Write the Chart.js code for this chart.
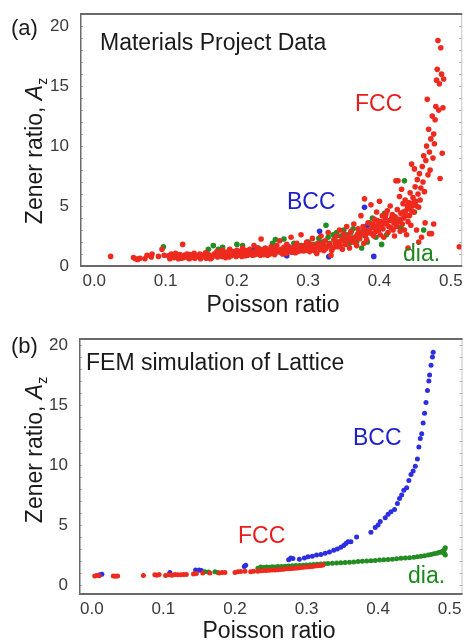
<!DOCTYPE html>
<html><head><meta charset="utf-8">
<script src="https://cdn.jsdelivr.net/npm/chart.js@4/dist/chart.umd.min.js"></script>
<style>
html,body{margin:0;padding:0;background:#fff;}
#wrap{position:relative;width:465px;height:641px;overflow:hidden;background:#fff;}
.c{position:absolute;left:0;}
</style></head><body>
<div id="wrap">
<div class="c" style="top:0;"><canvas id="ca" width="465" height="320"></canvas></div>
<div class="c" style="top:320px;"><canvas id="cb" width="465" height="321"></canvas></div>
</div>
<script>
// ---------- DATA: panel (a) Materials Project Data  [Poisson ratio, Zener ratio] ----------
const mpFCC = [
[0.023,0.8],[0.055,0.7],[0.058,0.6],[0.061,0.55],[0.064,0.65],[0.071,0.6],[0.074,0.9],[0.08,0.75],[0.081,1.0],[0.09,0.8],[0.095,1.4],[0.098,0.9],
[0.104,0.85],[0.108,1.0],[0.112,0.7],[0.114,1.05],[0.117,0.8],[0.12,0.95],[0.122,0.65],[0.124,1.8],[0.126,0.9],[0.128,0.75],[0.13,1.0],[0.132,0.8],[0.134,0.95],[0.136,0.7],[0.138,0.85],[0.14,1.05],[0.142,0.75],[0.144,0.9],[0.146,0.8],[0.148,1.0],[0.15,0.7],[0.152,0.9],[0.154,0.85],[0.156,1.1],[0.158,0.75],[0.16,0.95],[0.162,0.8],[0.165,0.7],[0.168,1.0],[0.17,0.9],
[0.172,1.2],[0.175,0.9],[0.178,1.1],[0.18,1.3],[0.182,0.95],[0.185,1.15],[0.188,1.0],[0.19,1.4],[0.192,0.85],[0.195,1.2],[0.198,1.05],[0.2,1.3],[0.202,0.9],[0.204,1.15],[0.206,1.0],[0.208,1.5],[0.21,1.1],[0.212,0.85],[0.214,1.25],[0.216,1.0],[0.218,1.4],[0.22,1.1],[0.222,0.9],[0.224,1.7],[0.226,1.2],[0.228,1.0],[0.23,1.35],[0.232,1.1],[0.234,2.25],[0.236,1.25],[0.238,0.95],[0.24,1.5],[0.242,1.15],[0.244,1.3],[0.246,1.0],[0.248,1.6],[0.25,1.2],
[0.252,1.4],[0.254,1.1],[0.256,1.7],[0.258,1.25],[0.26,2.1],[0.262,1.4],[0.264,1.0],[0.266,1.55],[0.268,1.3],[0.27,1.8],[0.272,1.2],[0.274,1.5],[0.276,2.4],[0.278,1.35],[0.28,1.6],[0.282,1.1],[0.284,1.9],[0.286,1.45],[0.288,1.25],[0.29,2.6],[0.292,1.5],[0.294,1.7],[0.296,1.3],[0.298,2.0],[0.3,1.55],[0.302,1.2],[0.304,1.8],[0.306,2.3],[0.308,1.4],[0.31,1.65],[0.312,1.05],[0.314,1.9],[0.316,1.5],[0.318,2.5],[0.32,1.7],[0.322,1.3],[0.324,2.1],[0.326,1.6],[0.328,2.8],[0.33,1.8],[0.332,0.9],[0.334,1.45],[0.336,2.2],
[0.338,1.9],[0.34,2.5],[0.342,1.6],[0.344,3.0],[0.346,2.1],[0.348,1.4],[0.35,2.7],[0.352,1.8],[0.354,3.3],[0.356,2.2],[0.358,1.5],[0.36,2.9],[0.362,2.0],[0.364,3.5],[0.366,2.4],[0.368,1.7],[0.37,3.1],[0.372,2.3],[0.374,4.2],[0.376,2.6],[0.378,1.9],[0.379,5.6],[0.38,3.0],[0.382,2.2],[0.384,3.6],[0.386,2.8],[0.388,5.1],[0.39,3.2],[0.392,2.5],
[0.393,3.9],[0.395,2.9],[0.396,4.5],[0.398,3.4],[0.4,5.4],[0.401,2.6],[0.402,3.7],[0.404,4.2],[0.405,3.1],[0.406,2.4],[0.408,4.0],[0.41,3.5],[0.411,4.6],[0.412,2.8],[0.414,3.8],[0.415,5.0],[0.416,3.2],[0.418,4.3],[0.42,3.6],[0.421,2.5],[0.422,4.1],[0.423,7.1],[0.424,3.3],[0.425,4.7],[0.426,7.1],[0.427,3.9],[0.428,5.8],[0.429,2.9],[0.43,4.4],[0.431,6.4],[0.432,3.5],[0.433,5.2],[0.434,4.0],[0.435,3.0],[0.436,5.5],[0.437,4.6],[0.438,2.6],[0.439,5.0],[0.44,3.7],[0.44,1.5],
[0.441,5.3],[0.442,4.2],[0.443,6.1],[0.444,3.4],[0.445,8.5],[0.446,5.0],[0.447,5.7],[0.448,4.5],[0.449,8.1],[0.45,6.6],[0.451,5.4],[0.452,3.0],[0.453,7.2],[0.454,6.0],[0.455,4.9],[0.455,2.0],[0.456,7.7],[0.457,5.5],[0.458,6.5],[0.459,2.4],[0.46,8.3],[0.461,7.0],[0.462,9.2],[0.463,6.2],[0.464,3.6],[0.465,8.8],[0.466,10.0],[0.467,13.9],[0.468,7.6],[0.469,11.4],[0.47,9.5],[0.47,2.7],[0.471,8.0],[0.472,10.6],[0.473,2.7],[0.474,12.5],[0.475,9.0],[0.476,11.0],[0.476,3.5],[0.477,10.2],[0.478,12.2],[0.479,13.3],[0.48,15.5],[0.481,16.4],[0.482,18.8],[0.483,13.0],[0.484,15.2],[0.485,7.3],[0.486,18.2],[0.487,16.0],[0.488,9.4],[0.489,13.2],[0.49,15.6],[0.512,1.6],
[0.106,0.6],[0.118,0.6],[0.125,0.7],[0.133,0.6],[0.141,0.65],[0.149,0.6],[0.157,0.65],[0.163,0.6],[0.167,0.85],[0.173,0.75],[0.179,0.8],[0.184,0.7],[0.189,0.75],[0.194,0.95],[0.199,0.8],[0.203,1.2],[0.207,0.8],[0.211,1.3],[0.215,0.9],[0.219,1.15],[0.225,0.95],[0.229,1.5],[0.233,0.9],[0.237,1.4],[0.243,0.9],[0.247,1.35],[0.249,1.05],[0.253,0.95],[0.257,1.3],[0.261,1.15],[0.265,1.3],[0.269,1.05],[0.273,1.35],[0.277,1.15],[0.281,1.4],[0.285,1.2],[0.289,1.6],[0.293,1.25],[0.297,1.55],[0.301,1.35],[0.305,1.45],[0.309,1.25],[0.313,1.6],[0.317,1.35],[0.321,1.9],[0.325,1.45],[0.329,1.7],[0.333,1.3],[0.337,1.6],[0.341,2.0],[0.345,1.7],[0.349,2.3],[0.353,2.0],[0.357,2.5],[0.361,2.3],[0.365,2.0],[0.369,2.6],[0.373,2.8],[0.377,3.3],[0.381,2.6],[0.385,3.0],[0.389,2.7],[0.391,3.5],[0.394,3.3],[0.397,3.8],[0.399,3.0],[0.403,3.4],[0.407,3.6],[0.409,4.3],[0.413,3.3],[0.417,4.0],[0.419,3.0],[0.425,3.6],[0.43,3.9],[0.433,4.5],[0.437,4.2],[0.44,4.8],[0.443,5.0],[0.445,4.6],[0.448,5.3],[0.452,5.0]
];
const mpDia = [
[0.097,1.6],[0.16,1.4],[0.167,1.7],[0.174,1.4],[0.18,1.55],[0.2,1.8],[0.208,1.7],[0.23,1.5],[0.25,1.9],[0.254,2.2],[0.266,2.25],[0.27,1.6],[0.28,1.9],[0.29,1.7],[0.3,2.0],[0.31,1.8],[0.315,2.3],[0.32,2.0],[0.325,3.4],[0.328,2.4],[0.33,1.9],[0.335,2.6],[0.338,2.1],[0.34,2.8],[0.343,1.8],[0.346,2.5],[0.35,3.0],[0.352,2.2],[0.355,2.6],[0.356,2.3],[0.358,1.9],[0.36,2.8],[0.363,3.1],[0.365,2.4],[0.368,2.0],[0.37,2.7],[0.372,2.3],[0.375,1.5],[0.377,2.9],[0.38,2.5],[0.383,2.0],[0.386,3.6],[0.39,4.0],[0.395,2.4],[0.403,1.8],[0.407,4.4],[0.41,2.6],[0.423,3.9],[0.43,3.2],[0.435,7.1],[0.449,4.5],[0.462,3.0]
];
const mpBCC = [
[0.108,0.75],[0.218,1.0],[0.223,1.3],[0.241,1.1],[0.251,1.4],[0.27,0.85],[0.273,1.6],[0.316,2.9],[0.329,0.78],[0.379,4.9],[0.383,3.4],[0.392,0.8]
];
// ---------- DATA: panel (b) FEM simulation of Lattice ----------
const femFCC = [
[0.004,0.75],[0.007,0.8],[0.01,0.78],[0.03,0.75],[0.033,0.72],[0.036,0.75],[0.072,0.8],[0.088,0.85],[0.091,0.82],[0.094,0.88],[0.103,0.8],[0.108,0.85],[0.112,0.82],[0.116,0.88],[0.12,0.85],[0.124,0.85],[0.128,0.87],[0.132,0.87],[0.142,0.92],[0.146,0.95],[0.155,1.0],[0.165,1.0],[0.178,1.0],[0.182,1.05],[0.186,1.05],[0.2,1.05],[0.204,1.1],[0.208,1.12],[0.214,1.15],[0.222,1.1],[0.226,1.15],[0.232,1.15],[0.236,1.18],[0.24,1.2],[0.244,1.2],[0.248,1.22],[0.252,1.25],[0.256,1.25],[0.26,1.28],[0.264,1.3],[0.268,1.32],[0.272,1.35],[0.276,1.35],[0.28,1.38],[0.284,1.4],[0.288,1.42],[0.292,1.45],[0.296,1.47],[0.3,1.5],[0.304,1.52],[0.308,1.55],[0.312,1.58],[0.316,1.6],[0.32,1.63],[0.323,1.67]
];
const femDia = [
[0.158,1.1],[0.163,1.08],[0.172,1.1],[0.176,1.05],[0.232,1.4],[0.236,1.5],[0.24,1.45],[0.244,1.5],[0.248,1.48],[0.252,1.52],[0.256,1.5],[0.26,1.55],[0.265,1.55],[0.27,1.57],[0.275,1.58],[0.28,1.6],[0.285,1.62],[0.29,1.62],[0.295,1.65],[0.3,1.67],[0.305,1.68],[0.31,1.7],[0.315,1.72],[0.32,1.74],[0.325,1.78],[0.33,1.8],[0.336,1.82],[0.342,1.84],[0.348,1.86],[0.354,1.88],[0.36,1.9],[0.366,1.92],[0.372,1.95],[0.378,1.98],[0.384,2.0],[0.39,2.02],[0.396,2.05],[0.402,2.08],[0.408,2.1],[0.414,2.12],[0.42,2.15],[0.426,2.18],[0.432,2.22],[0.438,2.25],[0.444,2.28],[0.45,2.32],[0.455,2.35],[0.46,2.4],[0.465,2.44],[0.47,2.5],[0.474,2.55],[0.478,2.6],[0.482,2.65],[0.485,2.7],[0.488,2.75],[0.49,2.8],[0.492,2.9],[0.493,3.0],[0.494,3.1],[0.493,2.6],[0.494,2.5],[0.491,2.7]
];
const femBCC = [
[0.011,0.85],[0.014,0.9],[0.109,1.05],[0.145,1.25],[0.15,1.25],[0.153,1.2],[0.213,1.55],[0.215,1.65],[0.275,2.1],[0.278,2.25],[0.281,2.2],[0.29,2.15],[0.297,2.25],[0.302,2.35],[0.308,2.4],[0.314,2.5],[0.32,2.55],[0.326,2.65],[0.332,2.75],[0.338,2.9],[0.343,3.0],[0.348,3.15],[0.352,3.3],[0.355,3.45],[0.358,3.6],[0.362,3.6],[0.37,4.0],[0.39,4.4],[0.396,4.8],[0.4,5.0],[0.403,5.3],[0.41,5.6],[0.414,5.9],[0.418,6.1],[0.423,6.3],[0.427,6.8],[0.43,7.2],[0.433,7.5],[0.436,7.9],[0.44,8.1],[0.443,8.7],[0.446,9.2],[0.449,9.5],[0.452,9.9],[0.455,10.5],[0.457,11.5],[0.459,12.2],[0.461,12.6],[0.463,13.5],[0.465,14.3],[0.467,15.2],[0.469,16.2],[0.471,17.0],[0.472,17.5],[0.474,18.3],[0.476,19.0],[0.477,19.4]
];
// ---------- labels ----------
const xTitle = 'Poisson ratio';
const yTitleMain = 'Zener ratio, ';
const yTitleVar = 'A';
const yTitleSub = 'z';

const FONT = '"Liberation Sans", Arial, Helvetica, sans-serif';
const RED = 'rgb(238,42,30)', BLUE = 'rgb(45,45,225)', GREEN = 'rgb(35,140,35)';
const RED_T = 'rgb(232,30,30)', BLUE_T = 'rgb(30,30,205)', GREEN_T = 'rgb(30,135,30)';

function annPlugin(cfg){
  return {
    id: 'ann_' + cfg.name,
    afterDatasetsDraw(chart){
      const ctx = chart.ctx, a = chart.chartArea;
      const ys = chart.scales.y;
      ctx.save();
      ctx.strokeStyle = '#aaa'; ctx.lineWidth = 1;
      for (let v = Math.ceil(ys.min); v <= ys.max; v++){
        const p = Math.round(ys.getPixelForValue(v)) + 0.5;
        ctx.beginPath(); ctx.moveTo(a.left, p); ctx.lineTo(a.left + 3, p); ctx.stroke();
        ctx.beginPath(); ctx.moveTo(a.right, p); ctx.lineTo(a.right - 3, p); ctx.stroke();
      }
      ctx.strokeStyle = '#c4c4c4'; ctx.lineWidth = 1;
      ctx.beginPath(); ctx.moveTo(a.right - 0.5, a.top); ctx.lineTo(a.right - 0.5, a.bottom); ctx.stroke();
      ctx.strokeStyle = '#6a6a6a'; ctx.lineWidth = 2;
      ctx.beginPath(); ctx.moveTo(a.left, a.top + 1); ctx.lineTo(a.right, a.top + 1); ctx.stroke();
      ctx.beginPath(); ctx.moveTo(a.left, a.bottom); ctx.lineTo(a.right, a.bottom); ctx.stroke();
      ctx.lineWidth = 1.5;
      ctx.beginPath(); ctx.moveTo(a.left + 0.75, a.top); ctx.lineTo(a.left + 0.75, a.bottom + 1); ctx.stroke();
      ctx.textAlign = 'left'; ctx.textBaseline = 'alphabetic';
      cfg.texts.forEach(t => {
        ctx.font = t.size + 'px ' + FONT;
        ctx.fillStyle = t.color;
        ctx.fillText(t.s, t.x, t.y + 0.36 * t.size);
      });
      ctx.font = '23px ' + FONT; ctx.fillStyle = '#1a1a1a'; ctx.textAlign = 'center';
      ctx.fillText(xTitle, cfg.xt.x, cfg.xt.y + 0.36 * 23);
      ctx.translate(cfg.yt.x, cfg.yt.y); ctx.rotate(-Math.PI / 2);
      ctx.textAlign = 'left';
      const s = 23;
      ctx.font = s + 'px ' + FONT; const w1 = ctx.measureText(yTitleMain).width;
      ctx.font = 'italic ' + s + 'px ' + FONT; const w2 = ctx.measureText(yTitleVar).width;
      ctx.font = Math.round(s * 0.62) + 'px ' + FONT; const w3 = ctx.measureText(yTitleSub).width;
      const x0 = -(w1 + w2 + w3) / 2, base = 0.36 * s;
      ctx.font = s + 'px ' + FONT; ctx.fillText(yTitleMain, x0, base);
      ctx.font = 'italic ' + s + 'px ' + FONT; ctx.fillText(yTitleVar, x0 + w1, base);
      ctx.font = Math.round(s * 0.62) + 'px ' + FONT; ctx.fillText(yTitleSub, x0 + w1 + w2, base + 0.22 * s);
      ctx.restore();
    }
  };
}

function makeChart(id, sets, xr, yr, area, plugin){
  return new Chart(document.getElementById(id), {
    type: 'scatter',
    data: { datasets: sets.map(s => ({
      data: s.data.map(([x, y]) => ({x, y})),
      backgroundColor: s.color, borderWidth: 0, pointRadius: s.r, pointHoverRadius: s.r
    })) },
    options: {
      responsive: false, animation: false, events: [],
      layout: { padding: { left: 0, top: area.top, right: area.right, bottom: 0 } },
      plugins: { legend: { display: false }, tooltip: { enabled: false } },
      scales: {
        x: {
          type: 'linear', min: xr[0], max: xr[1],
          grid: { display: false, drawTicks: false }, border: { display: false },
          ticks: { stepSize: 0.1, includeBounds: false, padding: 5, color: '#3a3a3a', autoSkip: false, maxRotation: 0,
                   font: { family: FONT, size: 17 }, callback: v => Number(v).toFixed(1) },
          afterFit: sc => { sc.height = area.xh; sc.paddingLeft = 0; sc.paddingRight = 0; }
        },
        y: {
          type: 'linear', min: yr[0], max: yr[1],
          grid: { display: false, drawTicks: false }, border: { display: false },
          ticks: { stepSize: 5, includeBounds: false, padding: 11, color: '#3a3a3a',
                   font: { family: FONT, size: 17 }, callback: v => String(Math.round(v)) },
          afterFit: sc => { sc.width = area.left; sc.paddingTop = 0; sc.paddingBottom = 0; }
        }
      }
    },
    plugins: [plugin]
  });
}

makeChart('ca',
  [ {data: mpFCC, color: RED, r: 2.8}, {data: mpDia, color: GREEN, r: 2.8}, {data: mpBCC, color: BLUE, r: 2.8} ],
  [-0.02, 0.516], [0, 21.1],
  {top: 13, right: 2, left: 80, xh: 54},
  annPlugin({ name: 'a',
    texts: [
      {s: '(a)', x: 11, y: 27, size: 22, color: '#1a1a1a'},
      {s: 'Materials Project Data', x: 100, y: 42, size: 23, color: '#1a1a1a'},
      {s: 'FCC', x: 355, y: 103, size: 23, color: RED_T},
      {s: 'BCC', x: 287, y: 201, size: 23, color: BLUE_T},
      {s: 'dia.', x: 403, y: 253, size: 23, color: GREEN_T}
    ],
    xt: {x: 273, y: 304}, yt: {x: 33.5, y: 151}
  })
);

makeChart('cb',
  [ {data: femFCC, color: RED, r: 2.5}, {data: femDia, color: GREEN, r: 2.5}, {data: femBCC, color: BLUE, r: 2.5} ],
  [-0.018, 0.518], [-0.75, 20.58],
  {top: 18, right: 2, left: 79, xh: 47},
  annPlugin({ name: 'b',
    texts: [
      {s: '(b)', x: 11, y: 25, size: 22, color: '#1a1a1a'},
      {s: 'FEM simulation of Lattice', x: 86, y: 42, size: 23, color: '#1a1a1a'},
      {s: 'BCC', x: 353, y: 117, size: 23, color: BLUE_T},
      {s: 'FCC', x: 238, y: 215, size: 23, color: RED_T},
      {s: 'dia.', x: 408, y: 255, size: 23, color: GREEN_T}
    ],
    xt: {x: 269, y: 310}, yt: {x: 33.5, y: 130}
  })
);
</script>
</body></html>
